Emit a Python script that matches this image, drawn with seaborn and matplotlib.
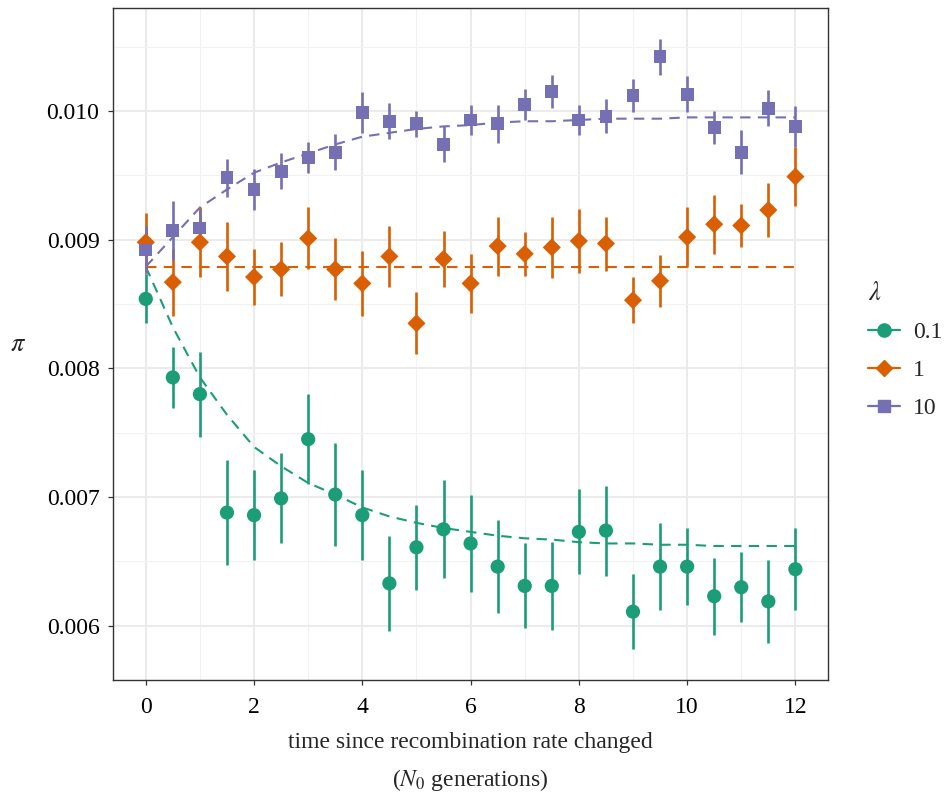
import numpy as np
import pandas as pd
import matplotlib.pyplot as plt
import seaborn as sns
from matplotlib.lines import Line2D

# time points (N0 generations)
t = [0, 0.5, 1, 1.5, 2, 2.5, 3, 3.5, 4, 4.5, 5, 5.5, 6, 6.5, 7, 7.5, 8, 8.5,
     9, 9.5, 10, 10.5, 11, 11.5, 12]

# observed pi per lambda
pi_01 = [0.00854, 0.00793, 0.00780, 0.00688, 0.00686, 0.00699, 0.00745, 0.00702,
         0.00686, 0.00633, 0.00661, 0.00675, 0.00664, 0.00646, 0.00631, 0.00631,
         0.00673, 0.00674, 0.00611, 0.00646, 0.00646, 0.00623, 0.00630, 0.00619,
         0.00644]
pi_1 = [0.00898, 0.00867, 0.00898, 0.00887, 0.00871, 0.00877, 0.00901, 0.00877,
        0.00866, 0.00887, 0.00835, 0.00885, 0.00866, 0.00895, 0.00889, 0.00894,
        0.00899, 0.00897, 0.00853, 0.00868, 0.00902, 0.00912, 0.00911, 0.00923,
        0.00949]
pi_10 = [0.00892, 0.00907, 0.00909, 0.00948, 0.00939, 0.00953, 0.00964, 0.00968,
         0.00999, 0.00992, 0.00990, 0.00974, 0.00993, 0.00990, 0.01005, 0.01015,
         0.00993, 0.00996, 0.01012, 0.01042, 0.01013, 0.00987, 0.00968, 0.01002,
         0.00988]

# half-width of error bars
err_01 = [0.00019, 0.00024, 0.00033, 0.00041, 0.00035, 0.00035, 0.00035, 0.00040,
          0.00035, 0.00037, 0.00033, 0.00038, 0.00038, 0.00036, 0.00033, 0.00034,
          0.00033, 0.00035, 0.00029, 0.00034, 0.00030, 0.00030, 0.00027, 0.00032,
          0.00032]
err_1 = [0.00023, 0.00026, 0.00027, 0.00027, 0.00022, 0.00021, 0.00024, 0.00024,
         0.00025, 0.00024, 0.00024, 0.00022, 0.00023, 0.00023, 0.00017, 0.00024,
         0.00025, 0.00021, 0.00018, 0.00020, 0.00023, 0.00023, 0.00017, 0.00021,
         0.00023]
err_10 = [0.00019, 0.00023, 0.00015, 0.00015, 0.00016, 0.00014, 0.00012, 0.00014,
          0.00016, 0.00014, 0.00010, 0.00014, 0.00012, 0.00015, 0.00012, 0.00013,
          0.00012, 0.00013, 0.00013, 0.00014, 0.00014, 0.00013, 0.00017, 0.00014,
          0.00016]

# expected curves (dashed)
exp_01 = [0.00879, 0.00832, 0.00793, 0.00764, 0.00739, 0.00724, 0.00711, 0.00702,
          0.00692, 0.00685, 0.00680, 0.00676, 0.00673, 0.00670, 0.00668, 0.00667,
          0.00665, 0.00664, 0.00664, 0.00663, 0.00663, 0.00662, 0.00662, 0.00662,
          0.00662]
exp_1 = [0.00879] * 25
exp_10 = [0.00879, 0.00902, 0.00925, 0.00939, 0.00952, 0.00960, 0.00967, 0.00974,
          0.00980, 0.00983, 0.00986, 0.00988, 0.00989, 0.00991, 0.00992, 0.00992,
          0.00993, 0.00994, 0.00994, 0.00994, 0.00995, 0.00995, 0.00995, 0.00995,
          0.00995]

lams = ["0.1", "1", "10"]
colors = {"0.1": "#1B9E77", "1": "#D95F02", "10": "#7570B3"}
markers = {"0.1": "o", "1": "D", "10": "s"}
msize = {"0.1": 105, "1": 85, "10": 85}

df = pd.DataFrame({
    "t": t * 3,
    "pi": pi_01 + pi_1 + pi_10,
    "err": err_01 + err_1 + err_10,
    "expected": exp_01 + exp_1 + exp_10,
    "lam": ["0.1"] * 25 + ["1"] * 25 + ["10"] * 25,
})

sns.set_theme(style="whitegrid")
plt.rcParams["font.family"] = ["Liberation Serif", "DejaVu Serif"]
plt.rcParams["mathtext.fontset"] = "stix"
FS = 17

fig = plt.figure(figsize=(9.44, 7.98), dpi=100)
ax = fig.add_axes([0.120, 0.148, 0.757, 0.842])

for lam in lams:
    d = df[df.lam == lam]
    ax.vlines(d.t, d.pi - d.err, d.pi + d.err, color=colors[lam], lw=1.9, zorder=3)
    sns.lineplot(data=d, x="t", y="expected", color=colors[lam], lw=1.5,
                 dashes=False, ax=ax, zorder=2, linestyle=(0, (5, 3.5)))
for lam in lams:
    d = df[df.lam == lam]
    sns.scatterplot(data=d, x="t", y="pi", color=colors[lam], marker=markers[lam],
                    s=msize[lam], edgecolor="none", ax=ax, zorder=4)

ax.set_xlim(-0.6, 12.6)
ax.set_ylim(0.00558, 0.0108)
ax.set_xticks([0, 2, 4, 6, 8, 10, 12])
ax.set_xticks(np.arange(1, 12, 2), minor=True)
ax.set_yticks([0.006, 0.007, 0.008, 0.009, 0.010])
ax.set_yticks([0.0065, 0.0075, 0.0085, 0.0095, 0.0105], minor=True)
ax.set_yticklabels(["0.006", "0.007", "0.008", "0.009", "0.010"])
ax.grid(which="major", color="#EBEBEB", lw=1.5)
ax.grid(which="minor", color="#F2F2F2", lw=0.8)
ax.set_axisbelow(True)
for s in ax.spines.values():
    s.set_color("#333333")
    s.set_linewidth(1.0)
ax.tick_params(which="major", direction="out", length=3.5, width=0.9, color="#333333",
               labelsize=FS, labelcolor="black", bottom=True, left=True)
ax.tick_params(axis="x", pad=9)
ax.tick_params(axis="y", pad=6.5)
ax.tick_params(which="minor", length=0)

ax.set_xlabel("time since recombination rate changed", fontsize=FS, labelpad=10)
ax.set_ylabel("")
fig.text(18 / 944, 1 - 345 / 798, "$\\pi$", fontsize=19, ha="center", va="center")
fig.text(0.5 * (0.120 + 0.877), 1 - 780 / 798, "($N_0$ generations)",
         fontsize=FS, ha="center", va="center")

handles = [Line2D([0], [0], color=colors[l], marker=markers[l], lw=1.6,
                  markersize={"0.1": 9.5, "1": 8.5, "10": 8.5}[l]) for l in lams]
ax.legend(handles, lams, title="$\\lambda$", loc="center left",
          bbox_to_anchor=(1.043, 0.49), frameon=False, fontsize=FS,
          title_fontsize=19, handlelength=1.35, handletextpad=0.55,
          labelspacing=0.7, alignment="left", borderaxespad=0)

fig.savefig("out.png", dpi=100)
